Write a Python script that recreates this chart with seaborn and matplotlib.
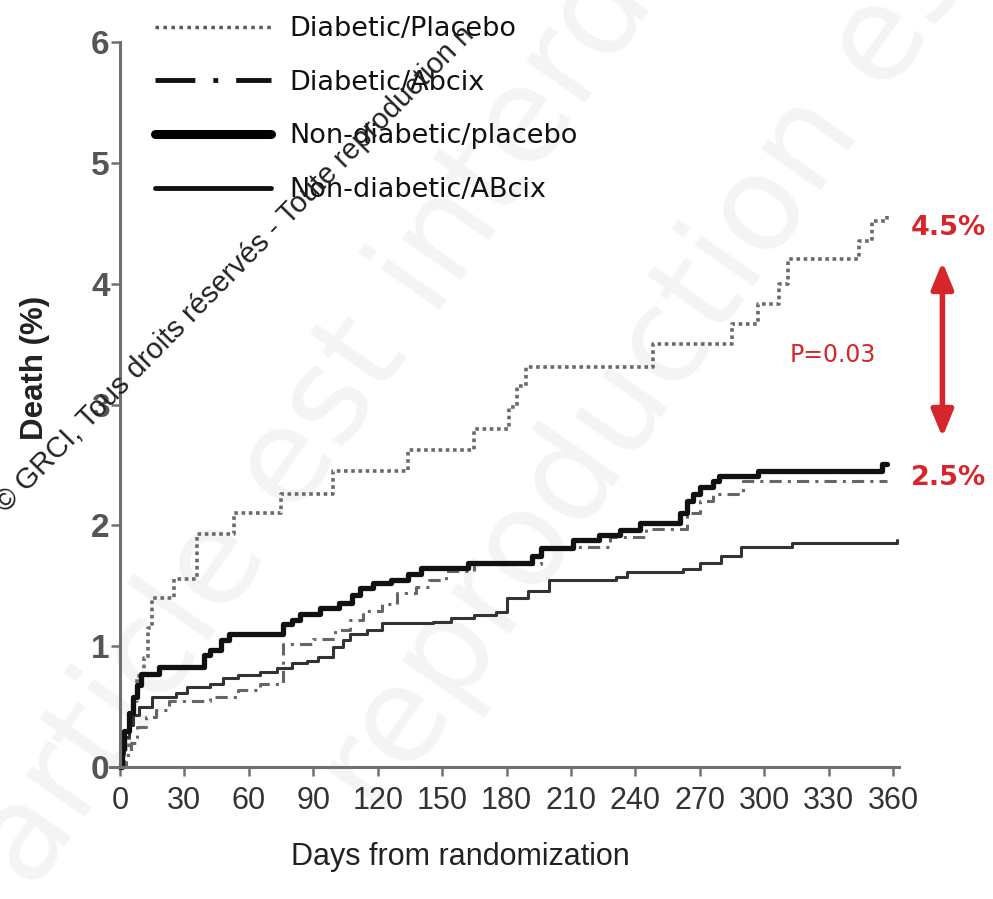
import matplotlib
matplotlib.use('Agg')
import matplotlib.pyplot as plt
import seaborn as sns
from matplotlib.lines import Line2D

# step data (days, death %)
dp_days = [0, 2, 4, 6, 8, 11, 13, 15, 25, 36, 53, 75, 99, 134, 165, 181, 185, 189, 248, 285, 297, 307, 311, 344, 350, 357]
dp_vals = [0, 0.15, 0.35, 0.55, 0.75, 0.9, 1.15, 1.4, 1.56, 1.93, 2.1, 2.26, 2.45, 2.62, 2.8, 2.98, 3.15, 3.31, 3.5, 3.67, 3.83, 4.0, 4.2, 4.35, 4.52, 4.58]

da_days = [0, 3, 5, 8, 12, 17, 23, 42, 55, 65, 76, 90, 100, 107, 113, 122, 129, 138, 144, 152, 165, 196, 228, 245, 264, 270, 276, 290, 357]
da_vals = [0, 0.1, 0.2, 0.33, 0.41, 0.47, 0.55, 0.58, 0.64, 0.69, 1.02, 1.06, 1.13, 1.22, 1.29, 1.35, 1.44, 1.49, 1.55, 1.62, 1.68, 1.82, 1.9, 1.97, 2.1, 2.2, 2.26, 2.37, 2.37]

nd_days = [0, 1, 2, 4, 6, 8, 10, 18, 39, 42, 47, 51, 76, 80, 84, 93, 102, 108, 112, 118, 126, 134, 140, 162, 192, 196, 211, 223, 233, 242, 261, 264, 267, 270, 276, 279, 297, 355, 357]
nd_vals = [0, 0.15, 0.3, 0.45, 0.58, 0.68, 0.77, 0.83, 0.93, 0.97, 1.05, 1.1, 1.18, 1.22, 1.27, 1.32, 1.36, 1.42, 1.48, 1.52, 1.55, 1.6, 1.65, 1.69, 1.75, 1.81, 1.88, 1.92, 1.96, 2.02, 2.1, 2.2, 2.26, 2.32, 2.37, 2.41, 2.45, 2.51, 2.51]

na_days = [0, 1, 2, 4, 6, 9, 15, 26, 31, 42, 48, 55, 65, 73, 80, 87, 92, 99, 104, 107, 115, 122, 146, 154, 165, 175, 180, 190, 200, 231, 236, 262, 270, 280, 289, 313, 362]
na_vals = [0, 0.12, 0.25, 0.35, 0.43, 0.5, 0.58, 0.61, 0.66, 0.69, 0.74, 0.76, 0.79, 0.82, 0.86, 0.88, 0.91, 0.99, 1.05, 1.1, 1.13, 1.19, 1.2, 1.23, 1.26, 1.28, 1.4, 1.46, 1.55, 1.57, 1.61, 1.64, 1.69, 1.75, 1.82, 1.85, 1.88]

labels = ['Diabetic/Placebo', 'Diabetic/Abcix', 'Non-diabetic/placebo', 'Non-diabetic/ABcix']
x_ticks = list(range(0, 361, 30))
y_ticks = list(range(0, 7))

red = '#d7262b'
arial = ['Liberation Sans', 'DejaVu Sans']

sns.set_theme(style='white')
plt.rcParams['font.family'] = ['DejaVu Sans']

fig = plt.figure(figsize=(9.93, 8.99), dpi=100)
ax = fig.add_axes([0.1111, 0.1468, 0.7947, 0.8065])
ax.patch.set_alpha(0)

# faint background watermark
fig.text(-0.05, 0.02, 'article est interdite', fontsize=95, color='#f4f4f4',
         rotation=55, zorder=-2)
fig.text(0.30, 0.10, 'reproduction est interdite © GRCI', fontsize=95, color='#f4f4f4',
         rotation=55, zorder=-2)

common = dict(ax=ax, drawstyle='steps-post', estimator=None, sort=False, clip_on=False)
sns.lineplot(x=dp_days, y=dp_vals, color='#6a6a6a', lw=2.6, ls=(0, (1, 1)), **common)
sns.lineplot(x=da_days, y=da_vals, color='#666666', lw=2.2, ls=(0, (4, 2, 1, 2)), **common)
sns.lineplot(x=na_days, y=na_vals, color='#333333', lw=2.2, **common)
sns.lineplot(x=nd_days, y=nd_vals, color='#111111', lw=3.8, **common)

ax.set_xlim(-4.5, 363)
ax.set_ylim(0, 6)
ax.set_xticks(x_ticks)
ax.set_yticks(y_ticks)
sns.despine(ax=ax)
ax.spines['left'].set_position(('data', 0))
ax.spines['left'].set_bounds(0, 6)
for s in ['left', 'bottom']:
    ax.spines[s].set_color('#707070')
    ax.spines[s].set_linewidth(2.2)
ax.tick_params(bottom=True, left=True, direction='out', length=6.5, width=1.8, color='#707070')
ax.tick_params(axis='x', pad=7, labelsize=22, labelcolor='#333333')
ax.tick_params(axis='y', pad=1, labelsize=24, labelcolor='#555555')
for lbl in ax.get_xticklabels() + ax.get_yticklabels():
    lbl.set_family(arial)
for lbl in ax.get_yticklabels():
    lbl.set_fontweight('bold')

ax.set_xlabel('Days from randomization', fontsize=22, family=arial, color='#222222')
ax.xaxis.set_label_coords(0.443, -0.103)
ax.set_ylabel('Death (%)', fontsize=22.5, fontweight='bold', family=arial, color='#222222')
ax.yaxis.set_label_coords(-0.076, 0.55)

# legend with its own handle styles
handles = [
    Line2D([], [], color='#555555', lw=2.5, ls=(0, (1, 1.3))),
    Line2D([], [], color='#111111', lw=3.5, ls=(0, (8.2, 3.7, 1, 3.7))),
    Line2D([], [], color='#000000', lw=6.5),
    Line2D([], [], color='#111111', lw=3.5),
]
leg = ax.legend(handles, labels, loc='upper left', bbox_to_anchor=(0.156, 0.982),
                bbox_transform=fig.transFigure, frameon=False, fontsize=19.5,
                handlelength=4.3, handletextpad=0.67, labelspacing=1.02,
                borderpad=0, borderaxespad=0)
for t in leg.get_texts():
    t.set_color('#111111')

# annotations on the right
ax.text(386, 4.46, '4.5%', color=red, fontsize=19.5, fontweight='bold',
        ha='center', va='center', clip_on=False)
ax.text(386, 2.39, '2.5%', color=red, fontsize=19.5, fontweight='bold',
        ha='center', va='center', clip_on=False)
ax.text(332, 3.41, 'P=0.03', color=red, fontsize=17, ha='center', va='center')
ax.annotate('', xy=(383, 4.18), xytext=(383, 2.73), annotation_clip=False,
            arrowprops=dict(arrowstyle='<|-|>,head_length=0.8,head_width=0.33',
                            color=red, lw=4, mutation_scale=20, shrinkA=0, shrinkB=0))

# copyright watermark across the upper left
fig.text(0.006, 1 - 514 / 899, '© GRCI, Tous droits réservés - Toute reproduction n',
         fontsize=21, color='#222222', rotation=45.5, rotation_mode='anchor',
         ha='left', va='baseline', family=arial)

fig.savefig('out.png', dpi=100)
